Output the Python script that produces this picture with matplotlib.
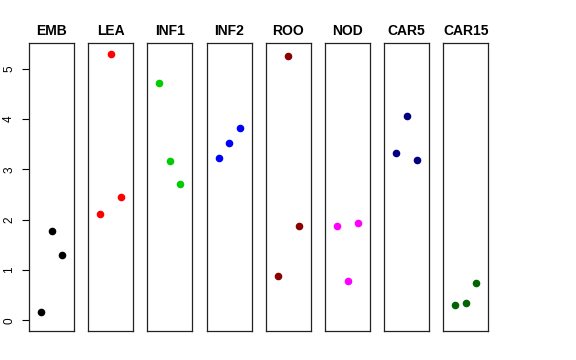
import matplotlib.pyplot as plt
import numpy as np

plt.rcParams['font.family'] = ['Liberation Sans', 'DejaVu Sans']

panels = ["EMB", "LEA", "INF1", "INF2", "ROO", "NOD", "CAR5", "CAR15"]
colors = ["black", "#FF0000", "#00CD00", "#0000FF",
          "#8B0000", "#FF00FF", "#000080", "#006400"]

# three values per panel, plotted at x = 1, 2, 3
emb = [0.16, 1.77, 1.29]
lea = [2.12, 5.30, 2.46]
inf1 = [4.71, 3.16, 2.70]
inf2 = [3.22, 3.53, 3.83]
roo = [0.89, 5.26, 1.88]
nod = [1.87, 0.78, 1.93]
car5 = [3.33, 4.07, 3.19]
car15 = [0.31, 0.35, 0.75]
values = [emb, lea, inf1, inf2, roo, nod, car5, car15]

W, H = 576, 360
fig = plt.figure(figsize=(W/100, H/100), dpi=100)

left0 = 29
pw = 45
step = 59.2
top = 43
bottom = 331

for i, name in enumerate(panels):
    ax = fig.add_axes([(left0 + i*step)/W, (H - bottom)/H, pw/W, (bottom - top)/H])
    ax.scatter([1, 2, 3], values[i], s=20, color=colors[i], zorder=3)
    ax.set_xlim(-0.16, 4.16)
    ax.set_ylim(-0.212, 5.512)
    ax.set_xticks([])
    ax.set_title(name, fontsize=10, fontweight="bold", pad=6)
    for sp in ax.spines.values():
        sp.set_linewidth(0.9)
        sp.set_color("#222222")
    if i == 0:
        ax.set_yticks([0, 1, 2, 3, 4, 5])
        ax.tick_params(axis="y", length=5, width=0.8, labelsize=8.5, pad=5)
        for lab in ax.get_yticklabels():
            lab.set_rotation(90)
            lab.set_va("center")
    else:
        ax.set_yticks([])

plt.savefig("out.png", dpi=100)
